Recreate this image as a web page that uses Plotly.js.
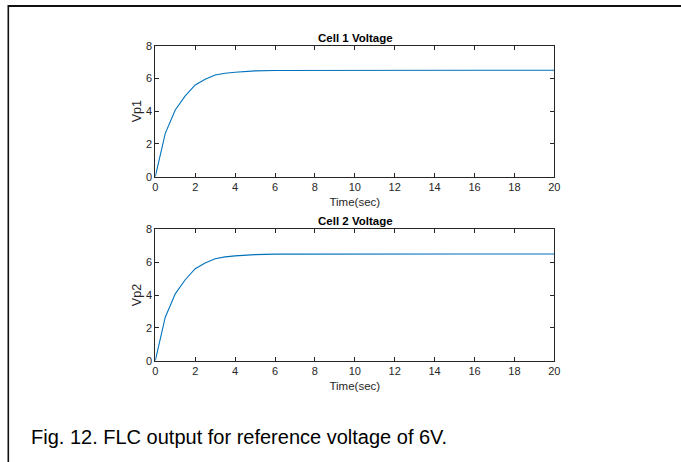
<!DOCTYPE html>
<html>
<head>
<meta charset="utf-8">
<script src="https://cdn.plot.ly/plotly-3.0.1.min.js"></script>
<style>
html,body{margin:0;padding:0;background:#fff;}
#chart{width:681px;height:462px;}
</style>
</head>
<body>
<div id="chart"></div>
<script>
// Data
const time = [0, 0.5, 1, 1.5, 2, 2.5, 3, 3.5, 4, 5, 6, 8, 10, 12, 14, 16, 18, 20];
const vp1  = [0, 2.65, 4.07, 4.93, 5.6, 5.95, 6.21, 6.32, 6.38, 6.46, 6.49, 6.5, 6.5, 6.5, 6.5, 6.5, 6.5, 6.5];
const vp2  = [0, 2.65, 4.07, 4.93, 5.6, 5.95, 6.21, 6.32, 6.38, 6.46, 6.49, 6.5, 6.5, 6.5, 6.5, 6.5, 6.5, 6.5];
const xTicks = [0, 2, 4, 6, 8, 10, 12, 14, 16, 18, 20];
const yTicks = [0, 2, 4, 6, 8];
const titles = ['Cell 1 Voltage', 'Cell 2 Voltage'];
const yLabels = ['Vp1', 'Vp2'];
const xLabel = 'Time(sec)';
const caption = 'Fig. 12. FLC output for reference voltage of 6V.';

const W = 681, H = 462;
const font = 'Liberation Sans, Arial, Helvetica, sans-serif';
const axCol = '#262626';
const px = v => v / W;
const py = v => 1 - v / H;

function xaxis(anchor) {
  return {
    domain: [px(155.3), px(554.3)], range: [0, 20], anchor: anchor,
    tickvals: xTicks, ticks: 'inside', ticklen: 4, tickcolor: axCol, tickwidth: 1,
    showline: true, linecolor: axCol, linewidth: 1, mirror: 'ticks',
    showgrid: false, zeroline: false,
    tickfont: {family: font, size: 11, color: axCol},
    title: {text: xLabel, font: {family: font, size: 11.5, color: axCol}, standoff: 6}
  };
}
function yaxis(anchor, top, bot, label) {
  return {
    domain: [py(bot), py(top)], range: [0, 8], anchor: anchor,
    tickvals: yTicks, ticks: 'inside', ticklen: 4, tickcolor: axCol, tickwidth: 1,
    showline: true, linecolor: axCol, linewidth: 1, mirror: 'ticks',
    showgrid: false, zeroline: false,
    tickfont: {family: font, size: 11, color: axCol},
    title: {text: label, font: {family: font, size: 12.5, color: axCol}, standoff: 1}
  };
}

const traces = [
  {x: time, y: vp1, xaxis: 'x', yaxis: 'y', mode: 'lines', line: {color: '#0072BD', width: 1.1}, hoverinfo: 'skip'},
  {x: time, y: vp2, xaxis: 'x2', yaxis: 'y2', mode: 'lines', line: {color: '#0072BD', width: 1.1}, hoverinfo: 'skip'}
];

const layout = {
  width: W, height: H,
  margin: {l: 0, r: 0, t: 0, b: 0},
  paper_bgcolor: '#fff', plot_bgcolor: '#fff',
  showlegend: false,
  xaxis: xaxis('y'),
  yaxis: yaxis('x', 45.7, 176.7, yLabels[0]),
  xaxis2: xaxis('y2'),
  yaxis2: yaxis('x2', 229.3, 360.7, yLabels[1]),
  annotations: [
    {text: '<b>' + titles[0] + '</b>', xref: 'paper', yref: 'paper', x: px(355), y: py(37.5), xanchor: 'center', yanchor: 'middle', showarrow: false, font: {family: font, size: 11.5, color: '#000'}},
    {text: '<b>' + titles[1] + '</b>', xref: 'paper', yref: 'paper', x: px(355), y: py(220.5), xanchor: 'center', yanchor: 'middle', showarrow: false, font: {family: font, size: 11.5, color: '#000'}},
    {text: caption, xref: 'paper', yref: 'paper', x: px(29), y: py(437), xanchor: 'left', yanchor: 'middle', showarrow: false, font: {family: font, size: 20, color: '#000'}}
  ],
  shapes: [
    {type: 'line', xref: 'paper', yref: 'paper', x0: px(8.3), x1: 1.01, y0: py(6), y1: py(6), line: {color: '#111', width: 2.2}},
    {type: 'line', xref: 'paper', yref: 'paper', x0: px(8.3), x1: px(8.3), y0: py(5), y1: -0.01, line: {color: '#111', width: 1.6}}
  ]
};

Plotly.newPlot('chart', traces, layout, {staticPlot: true, displayModeBar: false});
</script>
</body>
</html>
